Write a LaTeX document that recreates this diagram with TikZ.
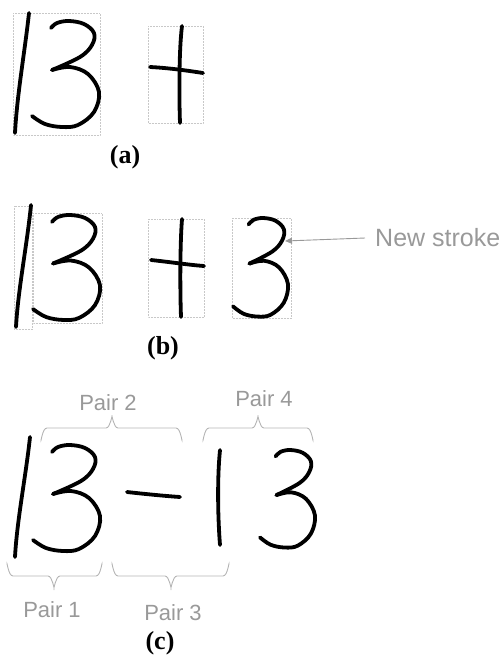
\documentclass[tikz,border=0pt]{standalone}
\usepackage{fontspec}
\setmainfont{Liberation Serif}
\newfontfamily\arialfont{Liberation Sans}
\usetikzlibrary{arrows.meta}
\definecolor{inkgray}{HTML}{999999}
\definecolor{bracegray}{HTML}{B4B4B4}
\definecolor{boxgray}{HTML}{C8C8C8}
\tikzset{
  ink/.style={line width=3.8pt, line cap=round, line join=round, black},
  bbox/.style={draw=boxgray, densely dotted, line width=0.5pt},
  brace/.style={draw=bracegray, line width=0.9pt},
  pairlabel/.style={text=inkgray, font=\arialfont\fontsize{22}{26}\selectfont, inner sep=0pt},
  sublabel/.style={font=\bfseries\fontsize{26}{30}\selectfont, inner sep=0pt},
}
\newcommand\threestroke{%
  \draw[ink] plot[smooth, tension=0.6] coordinates {(51,28) (57,23) (69,21) (84,24) (94,33) (92,45) (80,57) (52,70)};
  \draw[ink] plot[smooth, tension=0.6] coordinates {(52,70) (70,67) (88,74) (99,92) (94,112) (78,125) (62,127) (45,124) (32,116)};
}
\begin{document}
\begin{tikzpicture}[x=1pt, y=-1pt]
\useasboundingbox (0,0) rectangle (500,657);

% ---------- (a) ----------
\draw[bbox] (13,13) rectangle (100,135);
\draw[bbox] (148,26) rectangle (203,123);
\draw[ink] (29,13) .. controls (25,50) and (17,95) .. (15,133);
\threestroke
\draw[ink] (182,26) .. controls (179,50) and (179,95) .. (180,123);
\draw[ink] (150,67) .. controls (170,68) and (190,71) .. (203,73);
\node[sublabel] (la) at (125,157) {(a)};

% ---------- (b) ----------
\draw[bbox] (14,206) rectangle (32,329);
\draw[bbox] (33,213) rectangle (102,323);
\draw[bbox] (148,219) rectangle (204,317);
\draw[bbox] (232,218) rectangle (291,318);
\draw[ink] (31,205) .. controls (27,245) and (18,290) .. (16,327);
\begin{scope}[shift={(33,215)}, yscale=0.99, shift={(-32,-21)}]
  \threestroke
\end{scope}
\draw[ink] (182,219) .. controls (180,245) and (180,290) .. (181,317);
\draw[ink] (151,260) .. controls (170,262) and (190,265) .. (204,266);
\begin{scope}[shift={(233,218)}, xscale=0.82, yscale=0.93, shift={(-32,-21)}]
  \threestroke
\end{scope}
\node[pairlabel, anchor=west, font=\arialfont\fontsize{25}{29}\selectfont] (newlbl) at (375,238) {New stroke};
\coordinate (newtip) at (285,241);
\draw[draw=inkgray, line width=0.9pt, -{Triangle[length=7pt,width=6pt]}] ([xshift=-10pt]newlbl.west) -- (newtip);
\node[sublabel] (lb) at (163,348) {(b)};

% ---------- (c) ----------
\draw[ink] (30,437) .. controls (26,475) and (17,520) .. (15,557);
\begin{scope}[shift={(33,445)}, shift={(-32,-21)}]
  \threestroke
\end{scope}
\draw[ink] (127,492) .. controls (145,494) and (165,496) .. (180,497);
\draw[ink] (220,450) .. controls (217,480) and (218,520) .. (220,545);
\begin{scope}[shift={(260,450)}, xscale=0.82, yscale=0.92, shift={(-32,-21)}]
  \threestroke
\end{scope}

% braces (top)
\draw[brace] (41,439) to[out=-90,in=180] (47,428) -- (106,428) to[out=0,in=90] (112,418) -- (112,415);
\draw[brace] (112,418) to[out=90,in=180] (118,428) -- (176,428) to[out=0,in=-90] (182,439);
\node[pairlabel] (p2) at (108,403) {Pair 2};

\draw[brace] (203,439) to[out=-90,in=180] (209,428) -- (252,428) to[out=0,in=90] (258,418) -- (258,415);
\draw[brace] (258,418) to[out=90,in=180] (264,428) -- (307,428) to[out=0,in=-90] (313,439);
\node[pairlabel] (p4) at (264,399) {Pair 4};

% braces (bottom)
\draw[brace] (7,565) to[out=90,in=180] (13,576) -- (48,576) to[out=0,in=-90] (54,586) -- (54,590);
\draw[brace] (54,586) to[out=-90,in=180] (60,576) -- (96,576) to[out=0,in=90] (102,565);
\node[pairlabel] (p1) at (52,610) {Pair 1};

\draw[brace] (112,565) to[out=90,in=180] (118,576) -- (165,576) to[out=0,in=-90] (171,586) -- (171,590);
\draw[brace] (171,586) to[out=-90,in=180] (177,576) -- (223,576) to[out=0,in=90] (229,565);
\node[pairlabel] (p3) at (173,613) {Pair 3};

\node[sublabel] (lc) at (160,643) {(c)};
\end{tikzpicture}
\end{document}
